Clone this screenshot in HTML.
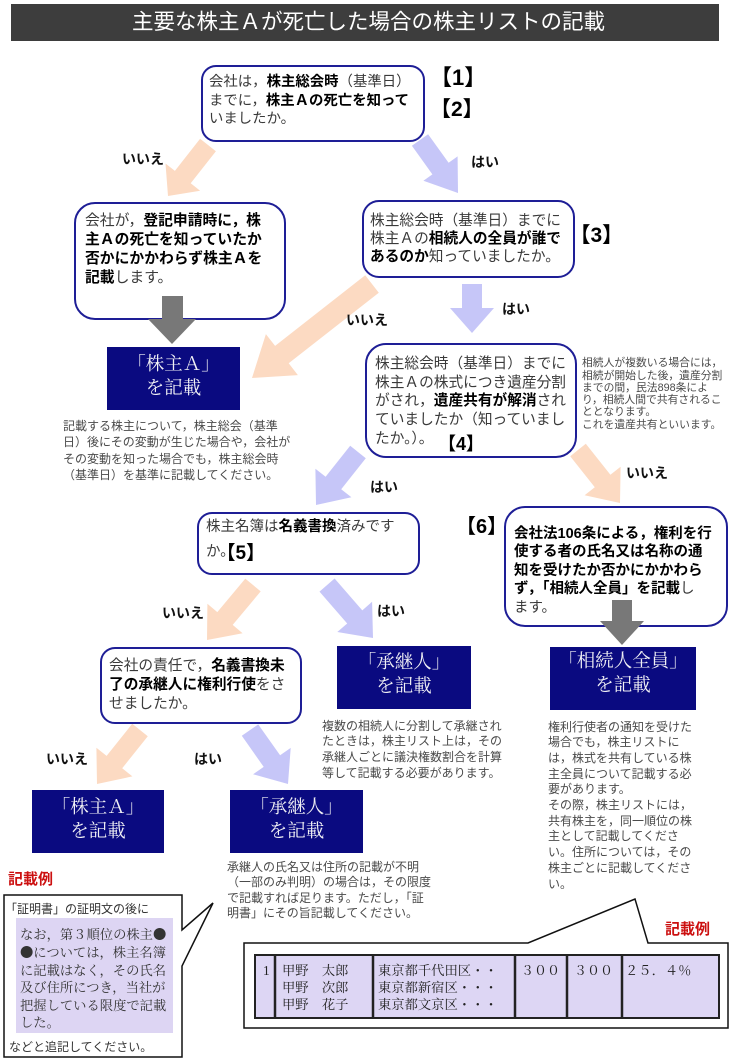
<!DOCTYPE html>
<html><head><meta charset="utf-8">
<style>
html,body{margin:0;padding:0;background:#fff;}
#c{position:relative;width:734px;height:1059px;overflow:hidden;background:#fff;}
svg{position:absolute;left:0;top:0;}
.t{position:absolute;white-space:nowrap;font-family:"Liberation Sans","Noto Sans CJK JP",sans-serif;color:#3a3a3a;}
.t b{color:#000;font-weight:bold;}
.nv{position:absolute;text-align:center;color:#f0f0f4;font-family:"Liberation Serif","Noto Serif CJK SC",serif;font-size:18.5px;line-height:24px;white-space:nowrap;}
.nt{font-size:12px;color:#4a4a4a;}
.lb{font-size:14px;line-height:14px;font-weight:bold;color:#111;}
.br{font-weight:bold;color:#000;}
.red{color:#cc1010;font-weight:bold;font-size:15px;line-height:15px;}
.sf{font-family:"Liberation Serif","Noto Serif CJK SC",serif;}
.dot{font-family:"Noto Sans CJK JP",sans-serif;}
</style></head>
<body>
<div id="c">
<svg width="734" height="1059" viewBox="0 0 734 1059">
  <rect x="11" y="4" width="708" height="37" fill="#3d3d3d"/>
  <!-- colored arrows -->
  <g fill="#fcdac2">
    <polygon points="200.1,138.8 174.9,170.9 165.5,163.5 168,196 200.1,190.7 190.7,183.3 215.9,151.2"/>
    <polygon points="365.2,275.3 275.1,345.9 265.9,334.1 252,378 297.9,375.1 288.7,363.3 378.8,292.7"/>
    <polygon points="570.2,456.2 594.8,487.2 584.6,495.3 620,503 620.6,466.7 610.4,474.8 585.8,443.8"/>
    <polygon points="245.3,578.6 217.3,612.1 207.4,603.7 207,640 242.6,633.3 232.7,624.9 260.7,591.4"/>
    <polygon points="132.2,723.8 106.6,755.9 96.4,747.8 97,784 132.4,776.4 122.2,768.3 147.8,736.2"/>
  </g>
  <g fill="#c6c6f8">
    <polygon points="411.9,145.8 432.4,174.4 423.4,180.8 458,193 457.6,156.4 448.6,162.8 428.1,134.2"/>
    <polygon points="462,284 482,284 482,308 494,308 472,333 450,308 462,308"/>
    <polygon points="350.2,445.8 325.6,476.8 315.4,468.7 316,505 351.4,497.3 341.2,489.2 365.8,458.2"/>
    <polygon points="319.5,591.6 347.2,623.5 337.3,632.0 373,638 372.1,601.8 362.3,610.4 334.6,578.5"/>
    <polygon points="241.8,735.8 263.7,766.9 253.1,774.3 288,784 290.7,747.9 280.1,755.3 258.2,724.4"/>
  </g>
  <!-- rounded question boxes -->
  <g fill="#fff" stroke="#1e1e96" stroke-width="2">
    <rect x="202" y="66" width="222" height="75" rx="14"/>
    <rect x="75" y="203" width="210" height="116" rx="20"/>
    <rect x="363" y="201" width="211" height="76" rx="16"/>
    <rect x="366" y="344" width="210" height="113" rx="20"/>
    <rect x="198" y="513" width="221" height="61" rx="14"/>
    <rect x="505" y="507" width="222" height="119" rx="20"/>
    <rect x="101" y="648" width="200" height="75" rx="14"/>
  </g>
  <!-- gray arrows -->
  <g fill="#787878">
    <polygon points="162,296 183,296 183,319 196,319 172,344 148,319 162,319"/>
    <polygon points="612,600 632,600 632,621 644,621 622,645 600,621 612,621"/>
  </g>
  <!-- navy result boxes -->
  <g fill="#0a0a80">
    <rect x="107" y="347" width="133" height="63"/>
    <rect x="550" y="647" width="146" height="63"/>
    <rect x="337" y="646" width="134" height="63"/>
    <rect x="32" y="790" width="132" height="63"/>
    <rect x="230" y="790" width="133" height="63"/>
  </g>
  <!-- left callout -->
  <path d="M4,895 H182 V930 L213,903 L182,966 V1057 H4 Z" fill="#fff" stroke="#111" stroke-width="1.5"/>
  <rect x="16" y="918" width="157" height="115" fill="#ddd5f3"/>
  <!-- right callout -->
  <path d="M244,943 H528 L635,899 L648,943 H728 V1028 H244 Z" fill="#fff" stroke="#111" stroke-width="1.5"/>
  <rect x="255" y="955" width="464" height="63" fill="#ddd6f4" stroke="#222" stroke-width="2"/>
  <g stroke="#222" stroke-width="2.5">
    <line x1="275" y1="955" x2="275" y2="1018"/>
    <line x1="373" y1="955" x2="373" y2="1018"/>
    <line x1="515" y1="955" x2="515" y2="1018"/>
    <line x1="567" y1="955" x2="567" y2="1018"/>
    <line x1="622" y1="955" x2="622" y2="1018"/>
  </g>
</svg>

<!-- title -->
<div class="t" style="left:132px;top:4px;line-height:37px;font-size:21.5px;color:#fff;">主要な株主Ａが死亡した場合の株主リストの記載</div>

<!-- box 1 -->
<div class="t" style="left:209px;top:73px;font-size:14.4px;line-height:18.5px;">会社は，<b>株主総会時</b>（基準日）<br>までに，<b>株主Ａの死亡を知って</b><br>いましたか。</div>
<div class="t br" style="left:430px;top:67px;font-size:22px;line-height:22px;">【1】</div>
<div class="t br" style="left:430px;top:99px;font-size:21px;line-height:21px;">【2】</div>

<!-- box 2 -->
<div class="t" style="left:85px;top:211.7px;font-size:14.8px;line-height:19px;">会社が，<b>登記申請時に，株<br>主Ａの死亡を知っていたか<br>否かにかかわらず株主Ａを<br>記載</b>します。</div>

<!-- box 3 -->
<div class="t" style="left:370px;top:212.2px;font-size:14.7px;line-height:18px;">株主総会時（基準日）までに<br>株主Ａの<b>相続人の全員が誰で<br>あるのか</b>知っていましたか。</div>
<div class="t br" style="left:569.5px;top:225px;font-size:21px;line-height:21px;">【3】</div>

<!-- box 4 -->
<div class="t" style="left:375px;top:354.8px;font-size:14.7px;line-height:18.75px;">株主総会時（基準日）までに<br>株主Ａの株式につき遺産分割<br>がされ，<b>遺産共有が解消</b>され<br>ていましたか（知っていまし<br>たか。）。</div>
<div class="t br" style="left:438px;top:435px;font-size:18px;line-height:18px;">【4】</div>

<!-- side note -->
<div class="t" style="left:582px;top:357.3px;font-size:10.8px;line-height:12.25px;color:#4a4a4a;">相続人が複数いる場合には，<br>相続が開始した後，遺産分割<br>までの間，民法898条によ<br>り，相続人間で共有されるこ<br>ととなります。<br>これを遺産共有といいます。</div>

<!-- box 5 -->
<div class="t" style="left:206px;top:518.2px;font-size:14.5px;line-height:18px;">株主名簿は<b>名義書換</b>済みです</div>
<div class="t" style="left:206px;top:543.2px;font-size:14.5px;line-height:18px;">か。</div>
<div class="t br" style="left:216.5px;top:544px;font-size:19px;line-height:19px;">【5】</div>

<!-- box 6 -->
<div class="t br" style="left:456px;top:517px;font-size:20px;line-height:20px;">【6】</div>
<div class="t" style="left:514px;top:525px;font-size:14.5px;line-height:18.4px;"><b>会社法106条による，権利を行<br>使する者の氏名又は名称の通<br>知を受けたか否かにかかわら<br>ず，「相続人全員」を記載</b>し<br>ます。</div>

<!-- box 7 -->
<div class="t" style="left:109px;top:656.7px;font-size:14.7px;line-height:19px;">会社の責任で，<b>名義書換未<br>了の承継人に権利行使</b>をさ<br>せましたか。</div>

<!-- navy box texts -->
<div class="nv" style="left:107px;top:352.7px;width:133px;">「株主Ａ」<br>を記載</div>
<div class="nv" style="left:550px;top:650.3px;width:146px;">「相続人全員」<br>を記載</div>
<div class="nv" style="left:337px;top:651px;width:134px;">「承継人」<br>を記載</div>
<div class="nv" style="left:32px;top:796px;width:132px;">「株主Ａ」<br>を記載</div>
<div class="nv" style="left:230px;top:796px;width:133px;">「承継人」<br>を記載</div>

<!-- notes -->
<div class="t nt" style="left:63px;top:418px;line-height:16.3px;">記載する株主について，株主総会（基準<br>日）後にその変動が生じた場合や，会社が<br>その変動を知った場合でも，株主総会時<br>（基準日）を基準に記載してください。</div>
<div class="t nt" style="left:322px;top:718.5px;line-height:15.7px;">複数の相続人に分割して承継され<br>たときは，株主リスト上は，その<br>承継人ごとに議決権数割合を計算<br>等して記載する必要があります。</div>
<div class="t nt" style="left:548px;top:719.5px;line-height:15.7px;">権利行使者の通知を受けた<br>場合でも，株主リストに<br>は，株式を共有している株<br>主全員について記載する必<br>要があります。<br>その際，株主リストには，<br>共有株主を，同一順位の株<br>主として記載してくださ<br>い。住所については，その<br>株主ごとに記載してくださ<br>い。</div>
<div class="t nt" style="left:227px;top:859.5px;line-height:15.6px;">承継人の氏名又は住所の記載が不明<br>（一部のみ判明）の場合は，その限度<br>で記載すれば足ります。ただし，「証<br>明書」にその旨記載してください。</div>

<!-- labels -->
<div class="t lb" style="left:122px;top:152px;">いいえ</div>
<div class="t lb" style="left:471px;top:155px;">はい</div>
<div class="t lb" style="left:346px;top:313px;">いいえ</div>
<div class="t lb" style="left:502px;top:302px;">はい</div>
<div class="t lb" style="left:370px;top:480px;">はい</div>
<div class="t lb" style="left:626px;top:466px;">いいえ</div>
<div class="t lb" style="left:162px;top:606px;">いいえ</div>
<div class="t lb" style="left:377px;top:604px;">はい</div>
<div class="t lb" style="left:46px;top:752px;">いいえ</div>
<div class="t lb" style="left:194px;top:752px;">はい</div>

<!-- 記載例 labels -->
<div class="t red" style="left:8px;top:871.7px;">記載例</div>
<div class="t red" style="left:665px;top:921.7px;">記載例</div>

<!-- left callout text -->
<div class="t" style="left:5px;top:901.3px;font-size:12px;line-height:16px;color:#333;">「証明書」の証明文の後に</div>
<div class="t sf" style="left:20px;top:924.5px;font-size:13.3px;line-height:17.6px;color:#333;">なお，第３順位の株主<span class="dot">●</span><br><span class="dot">●</span>については，株主名簿<br>に記載はなく，その氏名<br>及び住所につき，当社が<br>把握している限度で記載<br>した。</div>
<div class="t" style="left:9px;top:1039.3px;font-size:12px;line-height:16px;color:#333;">などと追記してください。</div>

<!-- table text -->
<div class="t sf" style="left:263px;top:961.8px;font-size:13.3px;line-height:17px;color:#222;">1</div>
<div class="t sf" style="left:282px;top:961.8px;font-size:13.3px;line-height:17px;color:#222;">甲野　太郎<br>甲野　次郎<br>甲野　花子</div>
<div class="t sf" style="left:378px;top:961.8px;font-size:13.3px;line-height:17px;color:#222;">東京都千代田区・・<br>東京都新宿区・・・<br>東京都文京区・・・</div>
<div class="t sf" style="left:521px;top:961.8px;font-size:13px;line-height:17px;color:#222;">３００</div>
<div class="t sf" style="left:574px;top:961.8px;font-size:13px;line-height:17px;color:#222;">３００</div>
<div class="t sf" style="left:625px;top:961.8px;font-size:13.3px;line-height:17px;color:#222;">２５．４％</div>
</div>
</body></html>
